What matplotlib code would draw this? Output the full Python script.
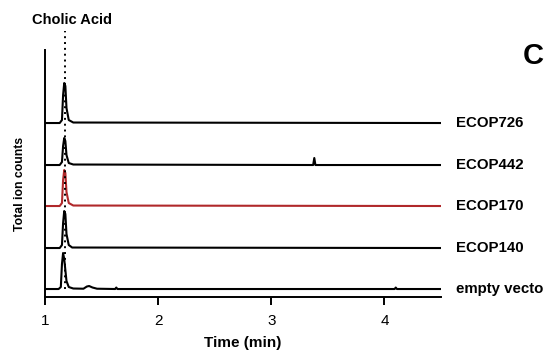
import matplotlib.pyplot as plt

plt.rcParams['font.family'] = ['Liberation Sans', 'DejaVu Sans']

# strain labels, bottom to top, and their baseline offsets
labels = ['empty vector', 'ECOP140', 'ECOP170', 'ECOP442', 'ECOP726']
offsets = [8, 49, 91, 132, 174]
colors = ['black', 'black', '#b0282a', 'black', 'black']

# traces (time in min, signal above baseline)
t_empty = [1.00, 1.12, 1.14, 1.15, 1.16, 1.17, 1.19, 1.21, 1.25, 1.34, 1.37, 1.39, 1.42, 1.46, 1.62, 1.63, 1.64, 4.09, 4.10, 4.11, 4.50]
y_empty = [0, 0, 2, 25, 36, 30, 8, 2, 0.5, 0.3, 2.5, 3, 1.5, 0.3, 0, 1.5, 0, 0, 1.5, 0, 0]

t_140 = [1.00, 1.13, 1.15, 1.16, 1.17, 1.18, 1.19, 1.21, 1.24, 4.50]
y_140 = [0, 0, 3, 25, 37, 34, 14, 3, 0.5, 0]

t_170 = [1.00, 1.13, 1.15, 1.16, 1.17, 1.18, 1.19, 1.21, 1.25, 4.50]
y_170 = [0, 0, 3, 26, 36, 33, 14, 3, 0.5, 0]

t_442 = [1.00, 1.13, 1.15, 1.16, 1.17, 1.18, 1.19, 1.21, 1.25, 3.37, 3.38, 3.39, 4.50]
y_442 = [0, 0, 3, 19, 27, 24, 10, 2, 0.5, 0, 7, 0, 0]

t_726 = [1.00, 1.13, 1.15, 1.16, 1.17, 1.18, 1.19, 1.21, 1.25, 4.50]
y_726 = [0, 0, 3, 28, 40, 37, 15, 3, 0.5, 0]

traces = [(t_empty, y_empty), (t_140, y_140), (t_170, y_170), (t_442, y_442), (t_726, y_726)]

cholic_time = 1.18
xticks = [1, 2, 3, 4]

fig = plt.figure(figsize=(5.44, 3.53), dpi=100)
ax = fig.add_axes([0.0827, 0.1586, 0.728, 0.6997])

for (t, y), off, c, lab in zip(traces, offsets, colors, labels):
    ax.plot(t, [v + off for v in y], color=c, lw=1.5, solid_joinstyle='round')
    # the last label runs off the right edge, as in the source figure
    ax.text(4.63, off, lab, fontsize=10.8, fontweight='bold', va='center', ha='left', clip_on=False)

ax.vlines(cholic_time, 8, 266, colors='black', linestyles=(0, (1, 2)), lw=1.4, clip_on=False)
ax.text(cholic_time + 0.06, 277, 'Cholic Acid', fontsize=10.5, fontweight='bold', ha='center', va='center')

ax.set_xlim(1, 4.5)
ax.set_ylim(0, 247)
ax.set_xticks(xticks)
ax.set_xticklabels([str(v) for v in xticks], fontsize=11)
ax.set_yticks([])
ax.spines['top'].set_visible(False)
ax.spines['right'].set_visible(False)
ax.spines['left'].set_linewidth(1.4)
ax.spines['bottom'].set_linewidth(1.4)
ax.tick_params(axis='x', length=6, width=1.4, pad=6)
ax.set_xlabel('Time (min)', fontsize=11, fontweight='bold', va='center')
ax.xaxis.set_label_coords(0.5, -0.186)
ax.set_ylabel('Total ion counts', fontsize=8.8, fontweight='bold', va='center')
ax.yaxis.set_label_coords(-0.064, 0.457)

fig.text(0.961, 0.841, 'C', fontsize=21, fontweight='bold', ha='left', va='center')

fig.savefig('out.png', dpi=100)
